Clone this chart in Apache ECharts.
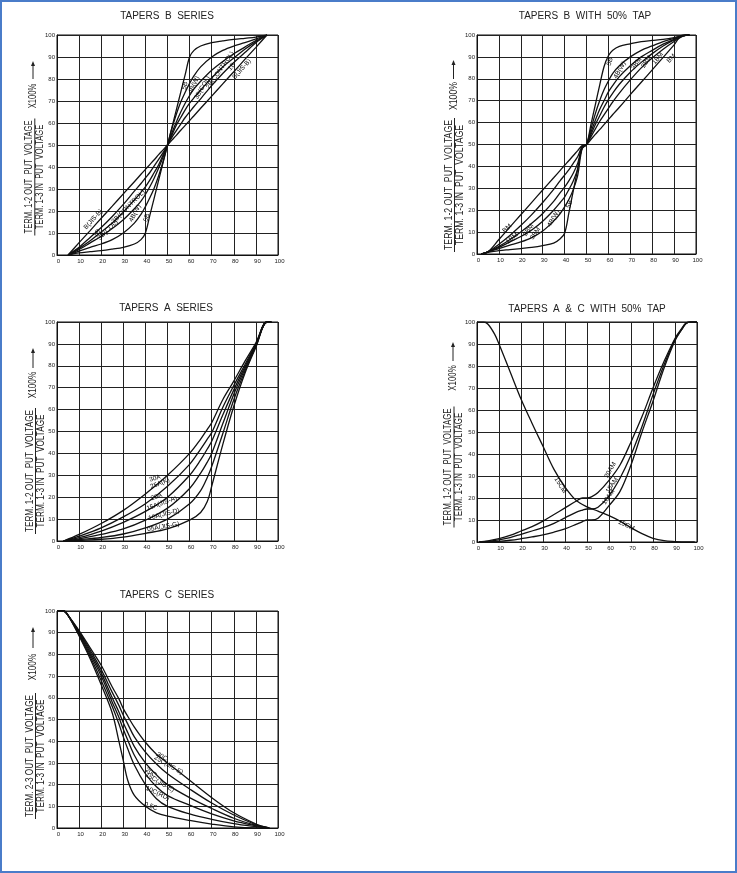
<!DOCTYPE html>
<html><head><meta charset="utf-8">
<script src="https://cdn.jsdelivr.net/npm/echarts@6/dist/echarts.min.js"></script>
<style>
html,body{margin:0;padding:0;background:#fff}
#c{width:737px;height:873px}
#f{position:absolute;left:0;top:0;width:737px;height:873px;box-sizing:border-box;border:2px solid #4a7cc9;pointer-events:none}
</style></head><body><div id="c"></div><div id="f"></div>
<script>
// ---------- tick labels ----------
const xTicks = [0,10,20,30,40,50,60,70,80,90,100];
const yTicks = [0,10,20,30,40,50,60,70,80,90,100];

// ---------- TAPERS B SERIES ----------
const bX = [5,10,15,20,25,30,35,38,40,42,44,46,48,50,52,54,56,58,60,62,65,70,75,80,85,90,95];
const b_BJIS = [0,5.6,11.1,16.7,22.2,27.8,33.3,36.7,38.9,41.1,43.3,45.6,47.8,50,52.2,54.4,56.7,58.9,61.1,63.3,66.7,72.2,77.8,83.3,88.9,94.4,100];
const b_1B   = [0,3.5,8,12.5,17.5,23,29,32.5,35,37.5,40.5,43.5,46.5,50,53.5,56.5,59.5,62.5,65,67.5,71,77,82.5,87.5,92,96.5,100];
const b_2B   = [0,3,6.5,10.5,14.5,19.5,25,28.5,31,34,37.5,41,45.5,50,54.5,59,62.5,66,69,71.5,75,80.5,85.5,89.5,93.5,97,100];
const b_3B   = [0,2.5,5.5,8.5,12,16,21,24.5,27.5,31,35,39.5,44.5,50,55.5,60.5,65,69,72.5,75.5,79,84,88,91.5,94.5,97.5,100];
const b_4B   = [0,1.8,3.5,5,7,10,14.5,18.5,22,26,30.5,36,42.5,50,57.5,64,69.5,74,78,81.5,85.5,90,93,95,96.5,98.2,100];
const b_5B   = [0,1,1.5,2,2.7,3.5,5,7,10,18,26,34,42,50,58,66,74,82,90,93,95,96.5,97.3,98,98.5,99,100];
const bLabels = [
  ['5B',57.9,77,75],['4B(W)',62,77.3,65],['3B(COL)',65.8,76,60],['2B(CONTROL)',73.8,84,55],['1B',79,85.6,50],['B(JIS-B)',83.6,84.5,48],
  ['B(JIS-B)',16.4,16.2,48],['1B',18,10,50],['3B(COL)',23,11.4,45],['2B(CONTROL)',32.3,22,45],['4B(W)',35.3,19,62],['5B',40.6,17,72]
];

// ---------- TAPERS B WITH 50% TAP ----------
const bmX = [2,5,10,15,20,25,30,35,38,40,42,44,46,48,50,52,54,56,58,60,62,65,70,75,80,85,90,94,97];
const bm_BM  = [0,1,6.6,12.3,17.9,23.6,29.2,34.8,38.2,40.5,42.7,45,47.2,49.5,50,52.3,54.6,56.8,59.1,61.4,63.7,67,72.8,78.4,84.1,89.8,95.5,100,100];
const bm_1BM = [0,1,4.5,8.5,13,18,23.5,29.5,33.5,36,38.5,41.5,44.5,49,50,53.5,57,60.5,63.5,66.5,69.5,73.5,79.5,85,89.5,93.5,97,99.5,100];
const bm_2BM = [0,1,3.5,6.5,10,14,18.5,24,28,30.5,33.5,37,41.5,48.5,50,54.5,59,63,67,70.5,73.5,77.5,83,87.5,91.5,95,97.8,99.6,100];
const bm_3BM = [0,1,3,5.5,8,11,15,20,23.5,26,29.5,33.5,39,48.5,50,55.5,61,66,70,74,77,81,86,90,93,95.8,98,99.6,100];
const bm_4BW = [0,1,2.5,4,5.5,7.5,10.5,15,18.5,21.5,25,29.5,36,48,50,57,64,70,75,79,82.5,86,90,93,95,97,98.5,99.7,100];
const bm_5B  = [0,0.8,1.5,2,2.5,3,3.8,5,7,9.5,19,29,39,48.5,50,59,68,77,85.5,90.5,93,94.8,96,97,97.5,98,98.8,99.7,100];
const bmLabels = [
  ['5B',60.7,87.8,72],['4B(W)',65.2,84,60],['3BM',72.8,87,55],['2BM',77.4,87.8,55],['1BM',82.6,89.3,50],['BM',88.7,89.3,48],
  ['BM',13.7,11.7,40],['1BM',16,7.2,40],['2BM',23.5,11,55],['3BM',26.6,9.4,55],['4B(W)',34.9,16.3,60],['5B',42.2,22.8,72]
];

// ---------- TAPERS A SERIES ----------
const aX = [3,10,20,30,40,50,60,65,68,70,75,80,85,90,95,97];
const a_30A = [0,3,8,14,21.5,30,40,46.5,51,54,64.5,73,82,90.5,100,100];
const a_25A = [0,2.2,6,11,17,25,35,42,46.5,49.5,61,71,80.5,90,100,100];
const a_20A = [0,1.5,4.5,8.5,13.5,20,30,37,42,45.5,57.5,69,79.5,89.5,100,100];
const a_15A = [0,1,3,5.5,9.5,15,24,31,36,40,53.5,67,78.5,89,100,100];
const a_10A = [0,0.6,1.6,3.2,6,10,17,23,29,34,49,64.5,77.5,89,100,100];
const a_05A = [0,0.3,0.8,1.8,3.5,5.5,9.5,13,18,25,44,61.5,76.5,88.5,100,100];
const aLabels = [
  ['30A',44.3,28.6,18],['25A(K)',46.6,26.3,22],['20A',45,20.2,18],['15A(JIS-A)',47.4,17.2,20],['10A(JIS-D)',48.4,12.2,15],['05A(JIS-G)',48.1,6.5,10]
];

// ---------- TAPERS A & C WITH 50% TAP ----------
const amX = [1,5,10,15,20,25,30,35,40,45,48,50,52,55,60,65,70,75,80,85,90,93,95,97,100];
const am_20AM = [0,0.5,1.5,3,5,7,9.5,12.5,15.5,18.5,20,20,20.5,22.5,28,35,45.5,57,70,82,92.5,97,99.5,100,100];
const am_15AM = [0,0.3,1,2,3.5,5,6.5,8.5,11,13.5,14.5,15,15,15.8,21,29,39.5,52.5,67,80.5,92,96.5,99.3,100,100];
const am_10AM = [0,0.1,0.3,0.8,1.5,2.3,3.2,4.5,6,8,9.3,10,10,10.8,16.5,23,35,50,64,79,91.5,96.5,99.3,100,100];
const cmX = [0,3,5,8,10,15,20,25,30,35,40,45,50,55,60,65,70,75,80,85,90,95,99];
const cm_15CM = [100,100,99,94.5,90,77.5,65,54,43.5,33,25,19,16,14,12,9.5,6.5,3.8,1.7,0.6,0.2,0,0];
const amLabels = [
  ['20AM',60.6,32.7,60],['15AM',61.4,25.8,55],['10AM',59.8,20.5,55],['15CM',37.9,25.8,-58],['15CM',67.9,7.6,-25]
];

// ---------- TAPERS C SERIES ----------
const cX = [0,3,5,10,15,20,25,28,30,32,35,40,45,50,60,70,80,90,93,96];
const c_30C  = [100,100,98,91,83,75,65,59.5,55,51.5,46.5,39.5,34,30,22,14,7,1.8,0.8,0];
const c_25C  = [100,100,98,90.5,82,73,62.5,56.5,52,48,42,35,29.5,25,18,11.5,6,1.5,0.7,0];
const c_20C  = [100,100,98,90,81,71.5,60,53.5,48.5,44,37.5,30,24.5,20,14,9,4.5,1.2,0.6,0];
const c_15C  = [100,100,98,89.5,80,70,58,51,45.5,40.5,33.5,25,19,15,10.5,6.5,3.3,1,0.5,0];
const c_10C  = [100,100,98,89,79,68,56,48,42,36.5,29,20,13.5,10,6.5,4,2,0.6,0.3,0];
const c_05C  = [100,100,98,88.5,78,66,53,40,31,22,15,10,7,5.5,3.5,1.8,0.5,0.1,0.1,0];
const cLabels = [
  ['30C',47.5,32.9,-30],['25C(JIS-E)',50.5,29,-30],['20C',42.5,25.6,-32],['15C(JIS-E)',46.5,21,-30],['10C(RD)',45.5,16,-25],['0.5C',42.5,10,-20]
];

// ---------- layout ----------
const FONT = '"Liberation Sans", Arial, sans-serif';
const grids = [
  {left:57, top:35, width:221, height:220},
  {left:477, top:35, width:219, height:219},
  {left:57, top:322, width:221, height:219},
  {left:477, top:322, width:220, height:220},
  {left:57, top:611, width:221, height:217}
];
const zip = (xs, ys) => xs.map((x,i)=>[x, ys[i]]);
const panels = [
  {curves:[[bX,b_BJIS],[bX,b_1B],[bX,b_2B],[bX,b_3B],[bX,b_4B],[bX,b_5B]], labels:bLabels},
  {curves:[[bmX,bm_BM],[bmX,bm_1BM],[bmX,bm_2BM],[bmX,bm_3BM],[bmX,bm_4BW],[bmX,bm_5B]], labels:bmLabels},
  {curves:[[aX,a_30A],[aX,a_25A],[aX,a_20A],[aX,a_15A],[aX,a_10A],[aX,a_05A]], labels:aLabels},
  {curves:[[amX,am_20AM],[amX,am_15AM],[amX,am_10AM],[cmX,cm_15CM]], labels:amLabels},
  {curves:[[cX,c_30C],[cX,c_25C],[cX,c_20C],[cX,c_15C],[cX,c_10C],[cX,c_05C]], labels:cLabels}
];

const series = [];
panels.forEach((p, gi) => {
  p.curves.forEach(c => series.push({
    type:'line', xAxisIndex:gi, yAxisIndex:gi, data:zip(c[0], c[1]),
    smooth:0.35, symbol:'none', silent:true, animation:false,
    lineStyle:{color:'#111', width:1.3}
  }));
  series.push({
    type:'scatter', xAxisIndex:gi, yAxisIndex:gi, symbolSize:1, silent:true, animation:false, z:5,
    itemStyle:{color:'rgba(0,0,0,0)'},
    data: p.labels.map(l => ({value:[l[1], l[2]], label:{show:true, position:'inside', formatter:l[0], rotate:l[3], fontSize:6.5, fontFamily:FONT, color:'#000', opacity:1}}))
  });
});

const xAxes = grids.map((g,i)=>({
  gridIndex:i, type:'value', min:0, max:100, interval:10,
  axisLine:{show:true, lineStyle:{color:'#111', width:1}}, axisTick:{show:false},
  splitLine:{show:true, lineStyle:{color:'#222', width:1}},
  axisLabel:{fontSize:6, color:'#222', margin:3, padding:[0,0,0,3], fontFamily:FONT, formatter:v=>xTicks.includes(v)?String(v):''}
}));
const yAxes = grids.map((g,i)=>({
  gridIndex:i, type:'value', min:0, max:100, interval:10,
  axisLine:{show:true, lineStyle:{color:'#111', width:1}}, axisTick:{show:false},
  splitLine:{show:true, lineStyle:{color:'#222', width:1}},
  axisLabel:{fontSize:6, color:'#222', margin:2, fontFamily:FONT, formatter:v=>yTicks.includes(v)?String(v):''}
}));

// titles
const titles = [
  ['TAPERS  B  SERIES',167,16],['TAPERS  B  WITH  50%  TAP',585,16],
  ['TAPERS  A  SERIES',166,308],['TAPERS  A  &  C  WITH  50%  TAP',587,309],
  ['TAPERS  C  SERIES',167,595]
];
const graphic = titles.map(t=>({type:'text', x:t[1], y:t[2], silent:true,
  style:{text:t[0], font:'10px '+FONT, fill:'#222', textAlign:'center', textVerticalAlign:'middle'}}));

// measure helper for compressing the rotated axis-name text to the reference length
const mctx = document.createElement('canvas').getContext('2d');
function textW(txt, fs){ mctx.font = fs+'px '+FONT; return mctx.measureText(txt).width; }

const ynames = [
  {num:'TERM. 1-2 OUT  PUT  VOLTAGE', nx:29.5, dx:40, lx:34.8, cy:177, fs:10, len:113, px:33, py:96, a1:79, a2:61},
  {num:'TERM. 1-2 OUT  PUT  VOLTAGE', nx:449, dx:460, lx:454.5, cy:185, fs:11, len:130, px:453.5, py:96, a1:79, a2:60},
  {num:'TERM. 1-2 OUT  PUT  VOLTAGE', nx:30, dx:41, lx:35.5, cy:471, fs:10.5, len:122, px:33, py:385, a1:368, a2:348},
  {num:'TERM. 1-2 OUT  PUT  VOLTAGE', nx:448.5, dx:459.5, lx:454, cy:467, fs:10.5, len:117, px:453, py:378, a1:361, a2:342},
  {num:'TERM. 2-3 OUT  PUT  VOLTAGE', nx:30, dx:41, lx:35.5, cy:756, fs:10.5, len:122, px:33, py:667, a1:648, a2:627}
];
const DEN = 'TERM. 1-3 IN  PUT  VOLTAGE';
ynames.forEach(n=>{
  const s = n.len / textW(n.num, n.fs);
  const st = t => ({text:t, font:n.fs+'px '+FONT, fill:'#222', textAlign:'center', textVerticalAlign:'middle'});
  graphic.push({type:'text', x:n.nx, y:n.cy, rotation:Math.PI/2, scaleX:s, scaleY:1, silent:true, style:st(n.num)});
  graphic.push({type:'text', x:n.dx, y:n.cy, rotation:Math.PI/2, scaleX:s, scaleY:1, silent:true, style:st(DEN)});
  graphic.push({type:'line', silent:true, shape:{x1:n.lx, y1:n.cy-n.len/2-2, x2:n.lx, y2:n.cy+n.len/2+2}, style:{stroke:'#222', lineWidth:1}});
  graphic.push({type:'text', x:n.px, y:n.py, rotation:Math.PI/2, scaleX:s, scaleY:1, silent:true, style:st('X100%')});
  graphic.push({type:'line', silent:true, shape:{x1:n.px, y1:n.a1, x2:n.px, y2:n.a2+4}, style:{stroke:'#222', lineWidth:1}});
  graphic.push({type:'polygon', silent:true, shape:{points:[[n.px-2,n.a2+5],[n.px+2,n.a2+5],[n.px,n.a2]]}, style:{fill:'#222'}});
});

const chart = echarts.init(document.getElementById('c'), null, {renderer:'canvas'});
chart.setOption({
  backgroundColor:'#fff', animation:false,
  grid: grids.map(g=>Object.assign({show:true, borderColor:'#111', borderWidth:1, containLabel:false}, g)),
  xAxis:xAxes, yAxis:yAxes, series:series, graphic:graphic
});
</script></body></html>
